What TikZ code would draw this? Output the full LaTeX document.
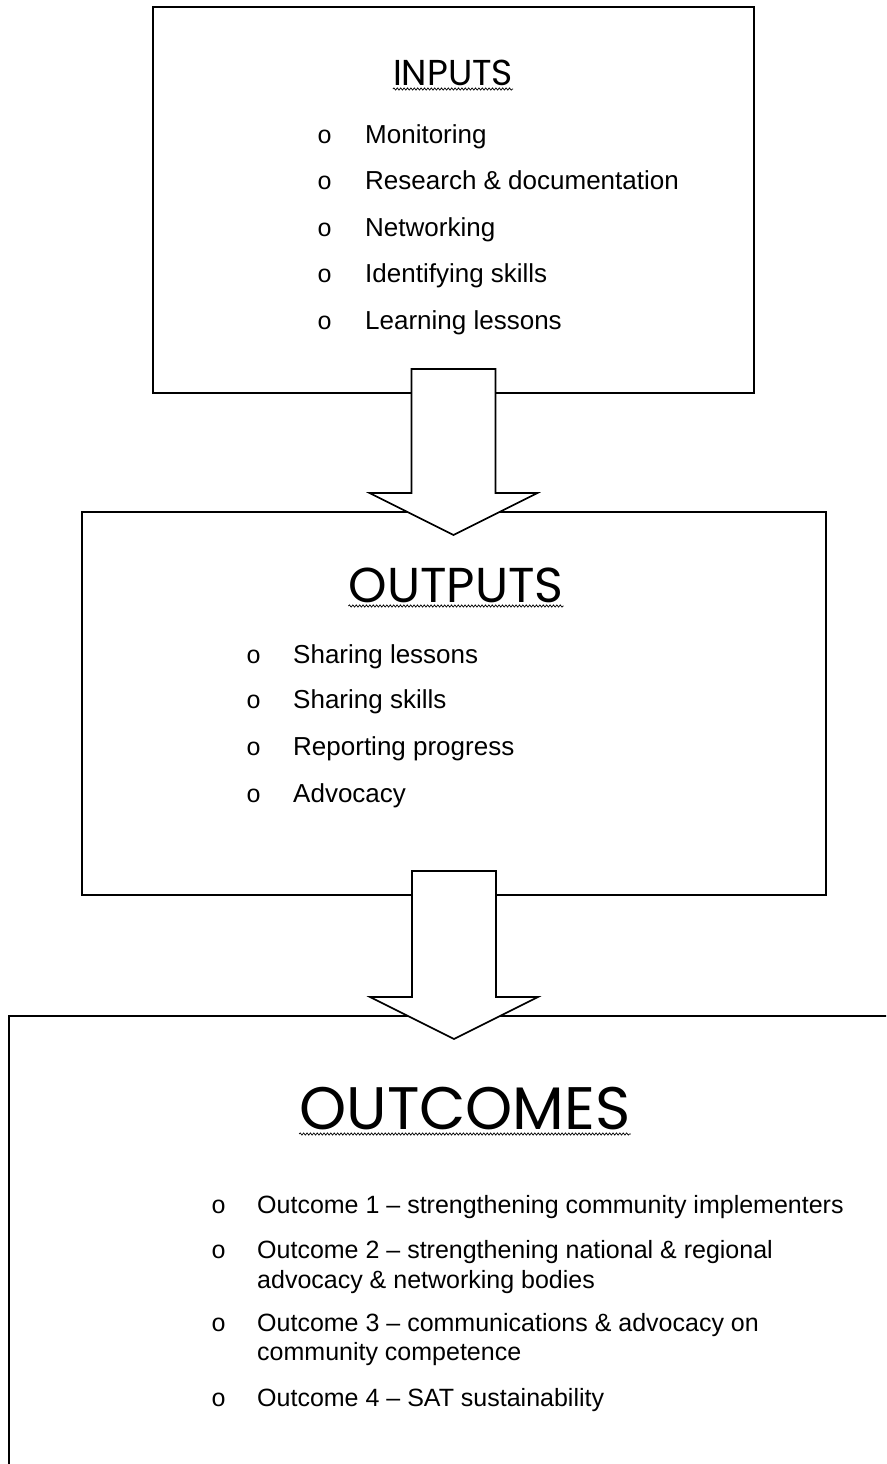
\documentclass[tikz,border=0pt]{standalone}
\usepackage{fontspec}
\setmainfont{Liberation Sans}
\newfontfamily\titlefont{Poppins}
\newfontfamily\bulletfont{Liberation Mono}
\usetikzlibrary{calc,decorations.pathmorphing}

\tikzset{
  box/.style={draw, line width=2pt, rectangle, inner sep=0pt, anchor=north west},
  heading/.style={inner sep=0pt, anchor=base},
  item/.style={font=\fontsize{26}{30}\selectfont, inner sep=0pt, anchor=base west},
  smallitem/.style={item, font=\fontsize{25}{30}\selectfont},
  bullet/.style={font=\bulletfont\fontsize{25}{30}\selectfont, inner sep=0pt, anchor=base west},
  squiggle/.style={line width=0.7pt, decorate, decoration={snake, segment length=3.4pt, amplitude=1.1pt}},
  bigarrow/.style={draw, fill=white, line width=1.6pt, line join=miter},
}

% block arrow from the bottom of one box into the top of the next
\newcommand\flowarrow[2]{%
  \coordinate (s) at ($(#1.south)+(0,-25)$);
  \coordinate (t) at ($(s |- #2.north)+(0,24)$);
  \draw[bigarrow] ($(s)+(-42,0)$) -- ($(s)+(42,0)$) -- ($(t)+(42,-42)$) -- ($(t)+(84,-42)$)
    -- (t) -- ($(t)+(-84,-42)$) -- ($(t)+(-42,-42)$) -- cycle;
}

\begin{document}
\begin{tikzpicture}[x=1pt,y=-1pt]
			%%%%% START %%%%%
			\useasboundingbox (0,0) rectangle (886,1464);
			\fill[white] (0,0) rectangle (886,1464);
			\clip (0,0) rectangle (886,1464);
			
			\node[box, minimum width=601pt, minimum height=386pt] (inputs) at (152,6) {};
			\node[box, minimum width=744pt, minimum height=383pt] (outputs) at (81,511) {};
			\node[box, minimum width=900pt, minimum height=480pt] (outcomes) at (8,1015) {};
			
			\flowarrow{inputs}{outputs}
			\flowarrow{outputs}{outcomes}
			
			%% inputs
			\node[heading, font=\titlefont\fontsize{36}{40}\selectfont] (inputsTitle) at (453,85) {INPUTS};
			\draw[squiggle] ($(inputsTitle.base west)+(0,4)$) -- ($(inputsTitle.base east)+(0,4)$);
			
			\node[bullet] (inB1) at (317,143) {o};
			\node[item] (in1) at (365,143) {Monitoring};
			\node[bullet] (inB2) at (317,189) {o};
			\node[item] (in2) at (365,189) {Research \& documentation};
			\node[bullet] (inB3) at (317,236) {o};
			\node[item] (in3) at (365,236) {Networking};
			\node[bullet] (inB4) at (317,282) {o};
			\node[item] (in4) at (365,282) {Identifying skills};
			\node[bullet] (inB5) at (317,329) {o};
			\node[item] (in5) at (365,329) {Learning lessons};
			
			%% outputs
			\node[heading, font=\titlefont\fontsize{49}{54}\selectfont] (outputsTitle) at (456,602) {OUTPUTS};
			\draw[squiggle] ($(outputsTitle.base west)+(0,4)$) -- ($(outputsTitle.base east)+(0,4)$);
			
			\node[bullet] (outB1) at (246,663) {o};
			\node[item] (out1) at (293,663) {Sharing lessons};
			\node[bullet] (outB2) at (246,708) {o};
			\node[item] (out2) at (293,708) {Sharing skills};
			\node[bullet] (outB3) at (246,755) {o};
			\node[item] (out3) at (293,755) {Reporting progress};
			\node[bullet] (outB4) at (246,802) {o};
			\node[item] (out4) at (293,802) {Advocacy};
			
			%% outcomes
			\node[heading, font=\titlefont\fontsize{60}{64}\selectfont] (outcomesTitle) at (465,1129) {OUTCOMES};
			\draw[squiggle] ($(outcomesTitle.base west)+(0,5)$) -- ($(outcomesTitle.base east)+(0,5)$);
			
			\node[bullet] (ocB1) at (211,1213) {o};
			\node[smallitem] (oc1) at (257,1213) {Outcome 1 -- strengthening community implementers};
			\node[bullet] (ocB2) at (211,1258) {o};
			\node[smallitem] (oc2) at (257,1258) {Outcome 2 -- strengthening national \& regional};
			\node[smallitem] (oc2b) at (257,1288) {advocacy \& networking bodies};
			\node[bullet] (ocB3) at (211,1331) {o};
			\node[smallitem] (oc3) at (257,1331) {Outcome 3 -- communications \& advocacy on};
			\node[smallitem] (oc3b) at (257,1360) {community competence};
			\node[bullet] (ocB4) at (211,1406) {o};
			\node[smallitem] (oc4) at (257,1406) {Outcome 4 -- SAT sustainability};
			
			%%%%% END %%%%%
\end{tikzpicture}
\end{document}
